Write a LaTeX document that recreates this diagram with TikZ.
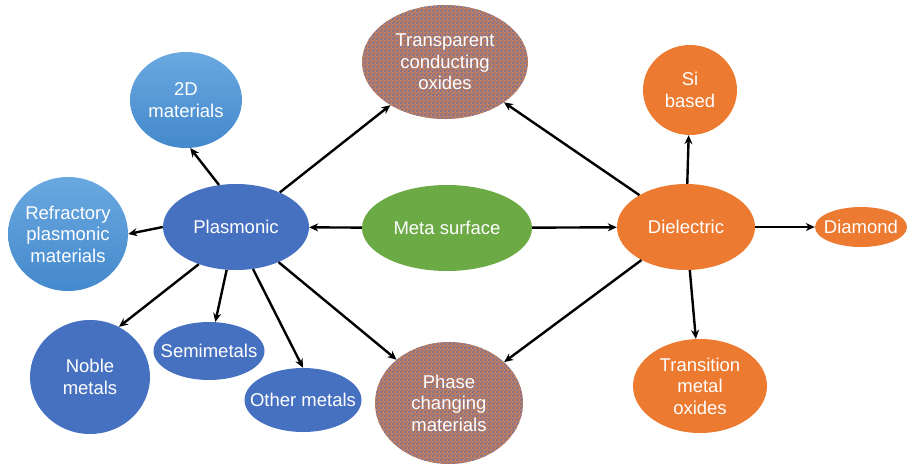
\documentclass[tikz,border=0pt]{standalone}
\usepackage{fontspec}
\setmainfont{Liberation Sans}
\usetikzlibrary{shapes.geometric,arrows.meta,patterns}

\definecolor{plasblue}{HTML}{4670C0}
\definecolor{skytop}{HTML}{6AA8E0}
\definecolor{skybot}{HTML}{4489CC}
\definecolor{dieorange}{HTML}{EC7A30}
\definecolor{metagreen}{HTML}{6CAA46}
\definecolor{mixbrown}{HTML}{C27E5E}
\definecolor{mixblue}{HTML}{70729E}

% small two-colour check for the mixed bubbles
\pgfdeclarepatternformonly{smallcheck}{\pgfpointorigin}{\pgfpoint{4pt}{4pt}}{\pgfpoint{4pt}{4pt}}{
    \pgfpathrectangle{\pgfpointorigin}{\pgfpoint{2pt}{2pt}}
    \pgfpathrectangle{\pgfpoint{2pt}{2pt}}{\pgfpoint{2pt}{2pt}}
    \pgfusepath{fill}}

\begin{document}
\begin{tikzpicture}[x=1pt,y=-1pt,
    bubble/.style={ellipse,inner ysep=0pt,inner xsep=-12pt,text=white,align=center,
        font=\fontsize{18.5}{21.5}\selectfont},
    plasfill/.style={bubble,fill=plasblue},
    skyfill/.style={bubble,top color=skytop,bottom color=skybot},
    diefill/.style={bubble,fill=dieorange},
    mixfill/.style={bubble,fill=mixbrown,
        postaction={pattern=smallcheck,pattern color=mixblue}},
    link/.style={-{Stealth[length=9pt,width=8pt]},line width=2.4pt}]
    \useasboundingbox (0,0) rectangle (907,464);
    % Centre
    \node[bubble,fill=metagreen,minimum width=170,minimum height=86] (meta) at (447,228) {Meta surface};
    % Plasmonic side
    \node[plasfill,minimum width=146,minimum height=86] (plas) at (236,227) {Plasmonic};
    \node[skyfill,minimum width=112,minimum height=96] (twod) at (186,100) {2D\\materials};
    \node[skyfill,minimum width=120,minimum height=114] (refr) at (68,234) {Refractory\\plasmonic\\materials};
    \node[plasfill,minimum width=120,minimum height=114] (noble) at (90,377) {Noble\\metals};
    \node[plasfill,minimum width=111,minimum height=58] (semi) at (209,351) {Semimetals};
    \node[plasfill,minimum width=117,minimum height=64] (other) at (303,400) {Other metals};
    % Mixed
    \node[mixfill,minimum width=166,minimum height=114] (tco) at (445,62) {Transparent\\conducting\\oxides};
    \node[mixfill,minimum width=148,minimum height=122] (phase) at (449,403) {Phase\\changing\\materials};
    % Dielectric side
    \node[diefill,minimum width=138,minimum height=86] (diel) at (686,227) {Dielectric};
    \node[diefill,minimum width=94,minimum height=90] (si) at (690,90) {Si\\based};
    \node[diefill,minimum width=92,minimum height=40] (dia) at (861,227) {Diamond};
    \node[diefill,minimum width=134,minimum height=94] (tmo) at (700,386) {Transition\\metal\\oxides};
    % Arrows
    \draw[link] (meta) -- (plas);
    \draw[link] (meta) -- (diel);
    \draw[link] (plas.112) -- (twod.-85);
    \draw[link] (plas.west) -- (refr.east);
    \draw[link] (plas.-135) -- (noble.60);
    \draw[link] (plas) -- (semi);
    \draw[link] (plas.-68) -- (other.north);
    \draw[link] (plas) -- (tco);
    \draw[link] (plas) -- (phase);
    \draw[link] (diel) -- (tco);
    \draw[link] (diel) -- (phase);
    \draw[link] (diel) -- (si);
    \draw[link] (diel) -- (dia);
    \draw[link] (diel) -- (tmo);
\end{tikzpicture}
\end{document}
